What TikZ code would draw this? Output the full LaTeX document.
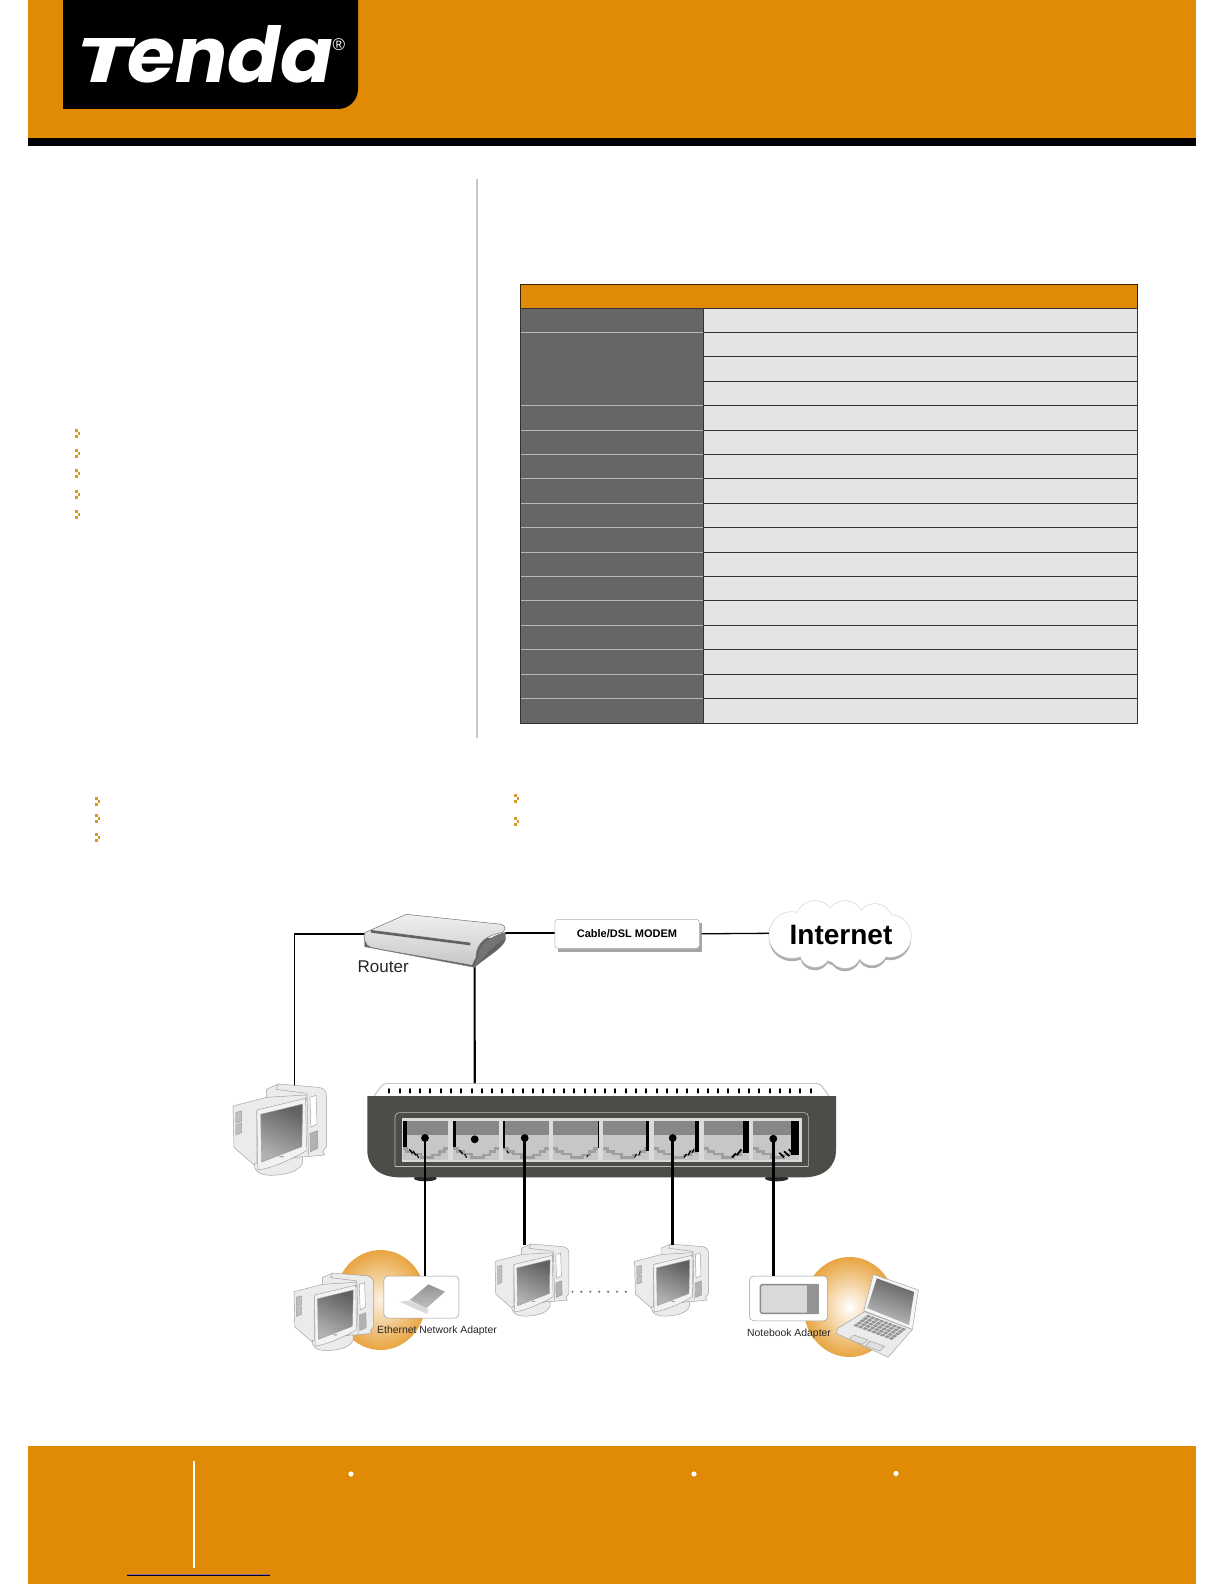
\documentclass[tikz,border=0pt]{standalone}
\usepackage{fontspec}
\usepackage{graphicx}
\setmainfont{Liberation Sans}
\newfontfamily\logofont{Poppins}
\usetikzlibrary{calc,shapes.geometric}
\definecolor{tOrange}{HTML}{E18A05}
\definecolor{tBullet}{HTML}{D49A2A}
\definecolor{tDark}{HTML}{666666}
\definecolor{tLight}{HTML}{E4E4E4}
\definecolor{tBody}{HTML}{4E4C48}
\definecolor{tBlob}{HTML}{E8A540}
\tikzset{
  band/.style={fill=tOrange,draw=none},
  pcpart/.style={fill=#1,draw=black!38,line width=0.45pt,line join=round},
  pcpart/.default={black!8},
  cable/.style={draw=black,line width=2.6pt},
  thincable/.style={draw=black,line width=1.3pt},
  portdot/.style={fill=black,draw=none},
  capt/.style={inner sep=0pt,font=\fontsize{10.4}{12}\selectfont,text=black!85}
}
\newcommand{\bulletmark}[2]{%
  \fill[tBullet] (#1-3,#2-4.5) rectangle (#1,#2-1.5);
  \fill[tBullet] (#1-3,#2+1.5) rectangle (#1,#2+4.5);
  \fill[tBullet] (#1,#2-1.5) rectangle (#1+2.2,#2+1.5);
}
\newcommand{\pcicon}[3]{%
  \begin{scope}[shift={(#1,#2)},xscale=#3/2.094,yscale=#3/3,shift={(-70,-612)}]
    % tower
    \path[pcpart] (140,628) -- (165,612) -- (250,622) .. controls (262,626) and (266,634) .. (266,650)
       -- (266,800) -- (258,815) -- (262,825) -- (225,830) -- (140,840) -- cycle;
    \path[pcpart] (165,612) -- (160,628) -- (225,640) -- (228,825);
    \path[pcpart=white] (231,652) -- (244,646) -- (246,732) -- (233,742) -- cycle;
    \path[pcpart=black!30] (231,760) -- (247,752) -- (248,805) -- (232,815) -- cycle;
    % rear of the monitor
    \path[pcpart] (70,678) -- (140,652) -- (222,645) -- (225,660) -- (120,692) -- (120,862) -- (72,802) -- cycle;
    \path[pcpart=black!25] (76,697) -- (88,693) -- (88,725) -- (76,730) -- cycle;
    \path[pcpart=black!25] (76,735) -- (88,730) -- (88,758) -- (76,765) -- cycle;
    % base
    \path[pcpart] (115,850) -- (215,830) .. controls (222,860) and (200,884) .. (150,886)
       .. controls (125,886) and (112,870) .. (115,850) -- cycle;
    % front bezel
    \path[pcpart=black!5] (120,690) -- (222,655) -- (224,812) .. controls (190,840) and (150,865) .. (122,870) -- cycle;
    % screen
    \path[top color=black!62,bottom color=black!30,shading angle=-25,draw=black!40,line width=0.4pt]
       (128,703) -- (216,672) -- (214,800) -- (130,846) -- cycle;
    \path[draw=black!40,line width=0.4pt] (172,830) circle [x radius=4,y radius=2];
  \end{scope}%
}
\begin{document}
\begin{tikzpicture}[x=1pt,y=-1pt]
\useasboundingbox (0,0) rectangle (1224,1584);
\fill[white] (0,0) rectangle (1224,1584);

% ---------- header
\path[band] (28.3,0) rectangle (1196,138);
\fill[black] (28.3,138) rectangle (1196,146);
\fill[black] (63,0) -- (358,0) -- (358,89) arc[start angle=0,end angle=90,radius=20] -- (63,109) -- cycle;
\node[anchor=south west,inner sep=0pt,text=white] (logo) at (75,83)
  {\logofont\bfseries\itshape\resizebox{56pt}{44pt}{T}\kern-4pt\resizebox{206pt}{57pt}{enda}};
\node[inner sep=0pt,text=white,font=\fontsize{17}{17}\selectfont] (reg) at (339,44.5) {®};

% ---------- divider
\draw[black!22,line width=2pt] (477,179) -- (477,738);

% ---------- bullets
\foreach \yy in {433,453,473.5,494,514} {\bulletmark{78}{\yy}}
\foreach \yy in {801,818,837} {\bulletmark{98}{\yy}}
\foreach \yy in {798,821} {\bulletmark{517}{\yy}}

% ---------- table
\fill[tOrange] (520,284.5) rectangle (1137,308);
\draw[black!75!tOrange,line width=1pt] (520,284.5) rectangle (1137,308);
\fill[tDark] (520,308) rectangle (703,723);
\fill[tLight] (703,308) rectangle (1137,723);
\foreach \r in {1,...,16}{
  \pgfmathsetmacro{\yy}{308+24.41*\r}
  \draw[black!80,line width=1pt] (703,\yy) -- (1137,\yy);
}
\foreach \r in {1,4,5,6,7,8,9,10,11,12,13,14,15,16}{
  \pgfmathsetmacro{\yy}{308+24.41*\r}
  \draw[black!28,line width=1pt] (520,\yy) -- (703,\yy);
}
\draw[black!80,line width=1pt] (703,308) -- (703,723);
\draw[black!80,line width=1pt] (520,308) rectangle (1137,723);

% ---------- footer
\path[band] (28.3,1446) rectangle (1196,1584);
\draw[white,line width=1.2pt] (194,1461) -- (194,1568);
\foreach \xx/\yy in {351/1474,694/1474,896/1473.5}{\fill[white] (\xx,\yy) circle (2.6);}
\draw[black!40!violet!60!white,line width=1pt] (127,1574) -- (270,1574);
\draw[black!85!blue,line width=1pt] (127,1575.3) -- (270,1575.3);

% ---------- connector end points
\coordinate (routerL) at (365,934);
\coordinate (routerR) at (505,933);
\coordinate (routerB) at (474.6,966);
\coordinate (pcAtop) at (294.5,1086);
\coordinate (port1) at (425,1138);
\coordinate (port2) at (474.7,1139.3);
\coordinate (port3) at (524.7,1138);
\coordinate (port6) at (672.7,1138);
\coordinate (port8) at (773.3,1138.7);
\coordinate (pcBtop) at (524.7,1245);
\coordinate (pcCtop) at (672.7,1245);

% ---------- glows behind the stations
\shade[inner color=tBlob!15,outer color=tBlob] (380.5,1300) ellipse (45.5 and 50);
\shade[inner color=white,outer color=tBlob] (849.5,1307) ellipse (46 and 50);

% ---------- wires
\draw[thincable] (routerL) -| (pcAtop);
\draw[thincable] (routerR) -- (555,933);
\draw[cable,line width=2.2pt] (routerB) -- (port2);

% ---------- switch
\begin{scope}[shift={(360,1080)},scale=1/3]
  \fill[black!85] (196,295) ellipse (34 and 9);
  \fill[black!85] (1250,295) ellipse (35 and 9);
  \path[fill=white,draw=black!35,line width=0.6pt,rounded corners=4pt] (36,56) -- (70,10) -- (1380,10) -- (1412,56) -- cycle;
  \foreach \t in {0,...,41}{
    \pgfmathsetmacro{\xx}{88+30.83*\t}
    \draw[black,line width=2pt,line cap=round] (\xx,27) -- (\xx,38);
  }
  \fill[tBody] (22,48) -- (1428,48) -- (1428,210) .. controls (1428,262) and (1390,292) .. (1330,292)
     -- (120,292) .. controls (60,292) and (22,262) .. (22,210) -- cycle;
  \draw[black!25,line width=0.6pt,rounded corners=4pt] (105,260) -- (105,98) -- (1345,98) -- (1345,260);
  \draw[black!25,line width=0.5pt] (105,258) -- (1345,258);
  \fill[black!14] (125,113) rectangle (1327,245);
  \foreach \px in {128,280,430,578,730,882,1032,1180}{
    \fill[black!22] (\px,122) rectangle (\px+136,240);
    \fill[black!47] (\px,122) rectangle (\px+136,165);
    \draw[black!38,line width=2.8pt] (\px,205) -- (\px+12,205) -- (\px+12,215) -- (\px+30,215) -- (\px+30,222)
       -- (\px+55,222) -- (\px+55,232) -- (\px+90,232) -- (\px+90,225) -- (\px+110,225) -- (\px+110,215)
       -- (\px+125,215) -- (\px+125,205) -- (\px+136,205);
  }
  \fill[black] (128,122) rectangle (140,200);
  \fill[black] (280,122) rectangle (288,200);
  \fill[black] (430,122) rectangle (435,205);
  \fill[black] (713,122) rectangle (715,205);
  \fill[black] (858,122) rectangle (866,212);
  \fill[black] (1005,122) rectangle (1017,215);
  \fill[black] (1148,122) rectangle (1167,218);
  \fill[black] (1292,122) rectangle (1316,225);
  \foreach \ax/\ay/\bx/\by/\w in {
     148/208/158/220/1.3, 160/214/168/226/1.3, 170/222/176/234/1.1,
     298/210/308/222/1.3, 314/222/320/233/1.1,
     440/212/446/220/0.9,
     680/232/685/224/0.9,
     824/232/829/222/1.0, 836/226/841/214/1.0,
     972/232/980/222/1.3, 984/226/992/212/1.3, 996/218/1002/208/1.3,
     1116/232/1128/220/1.8, 1130/226/1144/208/1.8,
     1258/218/1272/232/1.8, 1272/214/1288/228/1.8, 1286/208/1302/222/1.8}{
    \draw[black,line width=\w pt] (\ax,\ay) -- (\bx,\by);
  }
\end{scope}
\foreach \p in {port1,port2,port3,port6,port8}{\fill[portdot] (\p) circle (3.9);}

% ---------- router
\begin{scope}[shift={(200,880)},xscale=1/2.094,yscale=1/3]
  \path[fill=black!62,draw=black!50,line width=0.4pt] (575,262) -- (345,200) -- (345,170) -- (640,175) .. controls (640,200) and (600,230) .. cycle;
  \path[top color=black!6,bottom color=black!22,draw=black!55,line width=0.5pt]
     (345,158) -- (432,103) -- (632,133) .. controls (642,140) and (640,150) .. (632,158)
     .. controls (600,165) and (578,190) .. (578,232) -- (570,256)
     .. controls (480,232) and (400,215) .. (358,202) .. controls (344,195) and (342,170) .. (345,158) -- cycle;
  \fill[black!62] (358,150) -- (566,188) -- (566,196) -- (358,158) -- cycle;
  \path[fill=black!55] (582,232) .. controls (582,196) and (604,170) .. (640,156) -- (640,176) .. controls (612,196) and (590,240) .. (574,262) -- cycle;
\end{scope}
\node[inner sep=0pt,anchor=west,font=\fontsize{17}{17}\selectfont,text=black!85] (routerlabel) at (357.5,966.5) {Router};

% ---------- modem
\fill[black!35] (558,923) rectangle (702,952);
\node[draw=black!30,fill=white,rounded corners=3pt,line width=0.5pt,minimum width=144.5pt,minimum height=29pt,inner sep=0pt,anchor=center,
      font=\bfseries\fontsize{11}{12}\selectfont] (modem) at (627,933.8) {Cable/DSL MODEM};

% ---------- cloud
\foreach \cx/\cy/\cr in {792/935/23,815/920/19,845/919/18,875/921/17,890/936/21,872/950/15,845/952/16,815/952/15,840/935/28}{
  \fill[black!32] (\cx,\cy+3.2) circle (\cr);
}
\foreach \cx/\cy/\cr in {792/935/23,815/920/19,845/919/18,875/921/17,890/936/21,872/950/15,845/952/16,815/952/15,840/935/28}{
  \fill[black!18] (\cx,\cy) circle (\cr+0.6);
}
\foreach \cx/\cy/\cr in {792/935/23,815/920/19,845/919/18,875/921/17,890/936/21,872/950/15,845/952/16,815/952/15,840/935/28}{
  \fill[white] (\cx,\cy) circle (\cr);
}
\node[inner sep=0pt,font=\bfseries\fontsize{28}{28}\selectfont] (internet) at (841,935) {Internet};
\coordinate (cloudL) at (769,933.3);
\draw[thincable] (modem.east) ++(2,0) -- (cloudL);

% ---------- stations
\pcicon{233}{1084}{1}
\pcicon{495}{1244}{0.79}
\pcicon{634.6}{1244}{0.79}
\pcicon{294}{1273}{0.85}

% left adapter
\node[draw=black!40,fill=white,rounded corners=4pt,line width=0.5pt,minimum width=75pt,minimum height=42pt,inner sep=0pt] (ethcard) at (421.4,1297) {};
\begin{scope}[shift={(270,1170)},xscale=1/2.304,yscale=1/3]
  \path[top color=black!42,bottom color=black!25] (322,390) -- (365,343) -- (403,365) -- (360,415) -- cycle;
  \path[fill=black!15] (298,395) -- (320,392) -- (365,418) -- (362,432) -- cycle;
\end{scope}
\node[capt,anchor=center] (ethlabel) at (437,1330.7) {Ethernet Network Adapter};

% right adapter
\node[draw=black!40,fill=white,rounded corners=4pt,line width=0.5pt,minimum width=78pt,minimum height=44.7pt,inner sep=0pt] (nbcard) at (788.6,1298.4) {};
\begin{scope}[shift={(270,1170)},xscale=1/2.304,yscale=1/3]
  \path[fill=black!15,draw=black!45,line width=1.5pt,rounded corners=1.5pt] (1130,344) rectangle (1263,430);
  \fill[black!42] (1238,343) rectangle (1264,431);
\end{scope}
\node[capt,anchor=center] (nblabel) at (789,1333.3) {Notebook Adapter};

% laptop
\begin{scope}[shift={(270,1170)},xscale=1/2.304,yscale=1/3]
  \path[pcpart] (1370,425) -- (1480,478) -- (1424,562) -- (1408,552) -- (1305,490) -- (1308,475) -- cycle;
  \path[pcpart=black!4] (1390,313) -- (1494,360) -- (1480,478) -- (1368,422) -- cycle;
  \path[top color=black!62,bottom color=black!25,shading angle=-20] (1398,325) -- (1484,366) -- (1472,465) -- (1376,414) -- cycle;
  \foreach \k in {0,...,4}{
    \foreach \m in {0,...,8}{
      \pgfmathsetmacro{\uu}{0.10+\m*0.092}
      \pgfmathsetmacro{\vv}{0.06+\k*0.105}
      \pgfmathsetmacro{\du}{0.07}
      \pgfmathsetmacro{\dv}{0.085}
      \fill[black!42] ({1370+110*\uu-65*\vv},{425+53*\uu+65*\vv})
        -- ({1370+110*(\uu+\du)-65*\vv},{425+53*(\uu+\du)+65*\vv})
        -- ({1370+110*(\uu+\du)-65*(\vv+\dv)},{425+53*(\uu+\du)+65*(\vv+\dv)})
        -- ({1370+110*\uu-65*(\vv+\dv)},{425+53*\uu+65*(\vv+\dv)}) -- cycle;
    }
  }
  \path[pcpart=black!12] (1345,495) -- (1378,510) -- (1365,523) -- (1334,508) -- cycle;
  \path[pcpart=black!12] (1383,513) -- (1416,529) -- (1404,543) -- (1372,527) -- cycle;
\end{scope}

% dots between stations
\foreach \d in {0,...,6}{\fill[black!55] (572.5+\d*8.9,1291.7) circle (1.2);}

% cables to stations
\draw[cable] (port1) -- (ethcard.north -| port1);
\draw[cable] (port3) -- (pcBtop);
\draw[cable] (port6) -- (pcCtop);
\draw[cable] (port8) -- (nbcard.north -| port8);
\end{tikzpicture}
\end{document}
